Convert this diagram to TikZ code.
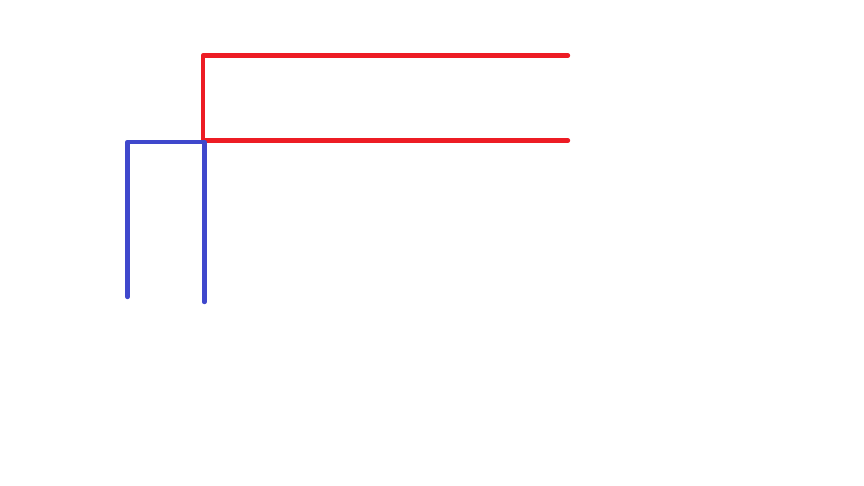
\documentclass[tikz,border=0pt]{standalone}
\usepackage{tikz}
\definecolor{wirered}{RGB}{237,28,36}
\definecolor{wireblue}{RGB}{63,72,204}

\begin{document}
\begin{tikzpicture}[x=1pt,y=-1pt,line width=4.4pt,line cap=round,line join=round]
  \useasboundingbox (0,0) rectangle (864,486);
  \coordinate (r1) at (568,55.5);
  \coordinate (r2) at (203,55.5);
  \coordinate (r3) at (203,140.5);
  \coordinate (r4) at (568,140.5);
  \coordinate (b1) at (127.5,297);
  \coordinate (b2) at (127.5,142);
  \coordinate (b3) at (204.3,142);
  \coordinate (b4) at (204.3,302);
  \draw[wirered] (r1) to (r2) to (r3) to (r4);
  \draw[wireblue] (b1) to (b2) to (b3) to (b4);
\end{tikzpicture}
\end{document}
